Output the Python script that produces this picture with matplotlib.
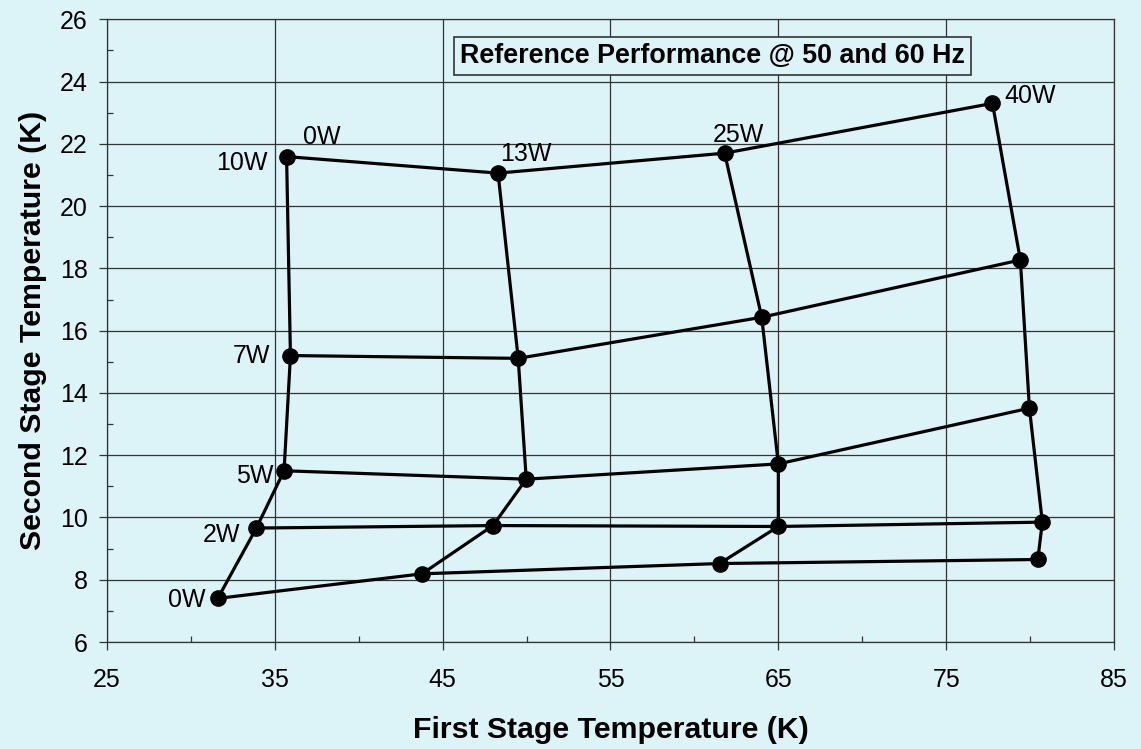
import matplotlib
matplotlib.use("Agg")
import matplotlib.pyplot as plt
from matplotlib.ticker import MultipleLocator

plt.rcParams['font.family'] = ['Liberation Sans', 'DejaVu Sans']

# Load labels
second_stage_loads = ['0W', '2W', '5W', '7W', '10W']
first_stage_loads = ['0W', '13W', '25W', '40W']

# First stage temperature (K) for each second-stage load row, across first-stage loads 0W,13W,25W,40W
t1_0w = [31.6, 43.77, 61.5, 80.46]
t1_2w = [33.9, 48.0, 65.0, 80.73]
t1_5w = [35.55, 49.98, 65.0, 79.96]
t1_7w = [35.93, 49.5, 64.01, 79.42]
t1_10w = [35.7, 48.3, 61.8, 77.76]

# Second stage temperature (K)
t2_0w = [7.40, 8.19, 8.52, 8.65]
t2_2w = [9.66, 9.74, 9.71, 9.85]
t2_5w = [11.50, 11.23, 11.72, 13.51]
t2_7w = [15.20, 15.11, 16.43, 18.27]
t2_10w = [21.59, 21.06, 21.70, 23.30]

x_ticks = [25, 35, 45, 55, 65, 75, 85]
y_ticks = [6, 8, 10, 12, 14, 16, 18, 20, 22, 24, 26]

t1_rows = [t1_0w, t1_2w, t1_5w, t1_7w, t1_10w]
t2_rows = [t2_0w, t2_2w, t2_5w, t2_7w, t2_10w]

bg = '#DCF4F8'
fig = plt.figure(figsize=(11.41, 7.49), dpi=100, facecolor=bg)
ax = fig.add_axes([107/1141, 1-642/749, (1114-107)/1141, (642-19.3)/749])
ax.set_facecolor(bg)

lw = 2.3
ms = 11
# rows (constant second-stage load)
for xs, ys in zip(t1_rows, t2_rows):
    ax.plot(xs, ys, color='black', lw=lw, marker='o', ms=ms, zorder=3)
# columns (constant first-stage load)
for j in range(len(first_stage_loads)):
    xs = [r[j] for r in t1_rows]
    ys = [r[j] for r in t2_rows]
    ax.plot(xs, ys, color='black', lw=lw, zorder=3)

ax.set_xlim(25, 85)
ax.set_ylim(6, 26)
ax.set_xticks(x_ticks)
ax.set_yticks(y_ticks)
ax.xaxis.set_minor_locator(MultipleLocator(5))
ax.yaxis.set_minor_locator(MultipleLocator(1))
ax.tick_params(which='major', direction='out', length=6, width=0.9, labelsize=18, pad=8, color='#333333')
ax.tick_params(axis='x', which='major', pad=13)
ax.tick_params(which='minor', direction='in', length=4, width=0.9, color='#333333')
ax.grid(True, which='major', color='#333333', lw=0.9, zorder=1)
for s in ax.spines.values():
    s.set_color('#333333')
    s.set_linewidth(0.9)

ax.set_xlabel('First Stage Temperature (K)', fontsize=21.8, fontweight='bold', labelpad=17)
ax.set_ylabel('Second Stage Temperature (K)', fontsize=21.8, fontweight='bold', labelpad=9)

fs = 18
px = 0.72  # points per pixel
# second-stage load labels, to the left of first column
left_offsets = [(-12, -2), (-16, -7), (-11, -5), (-20, 0), (-19, -6)]
for lab, xs, ys, off in zip(second_stage_loads, t1_rows, t2_rows, left_offsets):
    ax.annotate(lab, (xs[0], ys[0]), xytext=(off[0]*px, off[1]*px), textcoords='offset points',
                ha='right', va='center', fontsize=fs, zorder=4)
# first-stage load labels, above top row
top_offsets = [(16, 20), (2, 19), (-12, 18), (12, 7)]
for lab, x, y, off in zip(first_stage_loads, t1_10w, t2_10w, top_offsets):
    ax.annotate(lab, (x, y), xytext=(off[0]*px, off[1]*px), textcoords='offset points',
                ha='left', va='center', fontsize=fs, zorder=4)

ax.text(0.601, 0.941, 'Reference Performance @ 50 and 60 Hz', transform=ax.transAxes,
        ha='center', va='center', fontsize=19.4, fontweight='bold', zorder=5,
        bbox=dict(boxstyle='square,pad=0.22', facecolor=bg, edgecolor='#333333', lw=1.2))

fig.savefig('out.png', dpi=100, facecolor=bg)
